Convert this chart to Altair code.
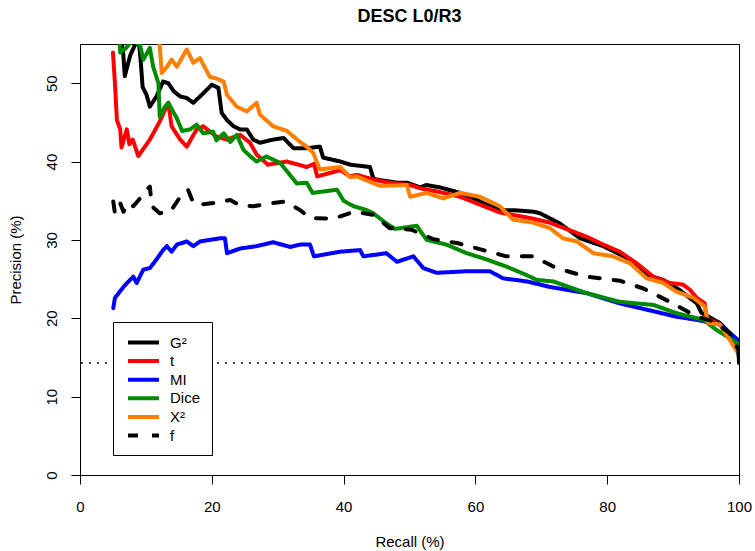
import altair as alt
import pandas as pd

series_names = ["G²", "t", "MI", "Dice", "X²", "f"]
series_colors = ["#000000", "#FF0000", "#0000FF", "#008B00", "#FF7F00", "#000000"]
series_dashes = [[1, 0], [1, 0], [1, 0], [1, 0], [1, 0], [10, 14]]
baseline = [14.3]

g2_x = [5.0, 6.5, 6.8, 7.6, 8.3, 8.9, 9.2, 9.5, 10.1, 10.6, 11.6, 12.6, 13.4, 14.2, 15.2, 16.2,
        17.2, 18.7, 20.0, 21.0, 21.5, 22.3, 23.3, 24.3, 25.3, 26.3, 27.3, 29.3, 30.9, 32.4, 34.4,
        36.4, 36.9, 39.5, 41.0, 44.0, 44.5, 45.0, 48.1, 49.6, 51.6, 52.6, 54.6, 57.7, 59.2, 61.2,
        63.7, 65.7, 68.8, 69.8, 72.8, 75.9, 79.4, 83.5, 86.0, 88.5, 91.0, 93.6, 94.3, 97.1, 98.6,
        99.9, 100.0]
g2_y = [57.0, 54.5, 50.9, 53.5, 54.8, 55.5, 53.0, 49.5, 48.5, 47.0, 48.3, 50.2, 50.0, 49.0, 48.3, 48.1,
        47.5, 48.7, 49.8, 49.4, 46.2, 45.3, 44.5, 44.1, 44.1, 42.8, 42.4, 42.8, 43.0, 41.7, 41.7,
        41.9, 40.5, 40.0, 39.6, 39.3, 37.9, 37.7, 37.3, 37.3, 36.7, 37.0, 36.7, 36.0, 35.5, 34.7,
        33.8, 33.8, 33.6, 33.4, 32.1, 30.2, 29.2, 27.5, 25.5, 24.9, 23.6, 21.9, 20.7, 19.4, 18.1,
        16.8, 14.3]

t_x = [5.0, 5.3, 5.6, 6.1, 6.3, 7.1, 7.5, 8.0, 8.85, 10.6, 12.1, 13.4, 13.9, 15.2, 16.2, 17.7,
       18.7, 20.7, 22.3, 24.3, 25.8, 26.8, 28.5, 31.4, 34.4, 35.5, 36.0, 39.5, 41.0, 42.0, 44.5,
       47.0, 50.1, 51.6, 54.6, 57.7, 60.7, 63.7, 66.3, 68.8, 71.3, 76.9, 79.4, 81.9, 84.5, 87.0,
       89.5, 91.5, 92.6, 93.6, 94.8, 95.1, 97.1, 99.9, 100.0]
t_y = [53.9, 50.0, 45.3, 44.1, 41.8, 44.1, 42.2, 42.8, 40.7, 42.8, 45.1, 47.5, 44.5, 42.8, 41.9, 44.1,
       44.5, 43.2, 42.8, 43.4, 42.4, 40.9, 39.6, 40.0, 39.3, 39.7, 38.1, 38.9, 38.1, 38.3, 37.7,
       37.3, 37.0, 36.6, 36.1, 35.5, 34.5, 33.5, 33.1, 32.7, 32.2, 30.4, 29.4, 28.5, 27.0, 25.3,
       24.5, 24.3, 23.6, 22.6, 21.9, 20.0, 19.2, 16.0, 15.5]

mi_x = [5.05, 5.3, 6.6, 7.6, 8.1, 8.6, 9.6, 10.6, 11.6, 12.6, 13.2, 13.9, 14.7, 16.2, 17.2, 18.2,
        19.7, 21.2, 22.0, 22.3, 24.3, 26.8, 29.3, 31.9, 33.4, 34.9, 35.5, 39.5, 42.5, 43.0, 46.5,
        48.1, 50.6, 52.1, 54.1, 58.7, 62.2, 64.2, 67.8, 71.3, 76.9, 81.9, 87.0, 90.5, 93.6, 97.1,
        99.9, 100.0]
mi_y = [21.3, 22.6, 24.0, 24.9, 25.3, 24.5, 26.2, 26.4, 27.5, 28.7, 29.2, 28.5, 29.4, 29.8, 29.2, 29.8,
        30.0, 30.2, 30.2, 28.3, 28.9, 29.2, 29.7, 29.1, 29.4, 29.4, 27.9, 28.5, 28.7, 27.9, 28.3,
        27.2, 27.9, 26.4, 25.8, 26.0, 26.0, 25.1, 24.7, 24.0, 23.2, 21.9, 20.9, 20.2, 19.8, 19.2,
        17.2, 16.5]

dice_x = [6.0, 6.1, 7.0, 8.0, 9.1, 9.6, 10.6, 11.1, 11.9, 12.1, 12.9, 13.4, 14.7, 15.5, 16.7, 17.7,
          18.7, 20.2, 20.7, 21.8, 22.8, 23.8, 24.8, 25.8, 26.8, 28.3, 30.4, 32.9, 34.4, 35.3, 39.0,
          40.0, 41.5, 43.5, 44.5, 46.5, 47.8, 51.1, 52.6, 55.6, 58.7, 61.7, 64.7, 67.8, 69.3, 71.8,
          76.9, 81.9, 87.0, 90.5, 94.6, 96.6, 99.9, 100.0]
dice_y = [55.5, 53.9, 54.5, 55.5, 54.9, 53.0, 54.5, 52.1, 50.0, 45.7, 47.0, 47.5, 45.5, 43.9, 44.1, 44.7,
          43.6, 43.8, 42.7, 43.6, 42.5, 43.4, 41.5, 40.7, 40.0, 40.65, 39.8, 37.2, 37.3, 36.0, 36.4,
          35.0, 34.3, 33.8, 33.4, 32.1, 31.4, 31.8, 30.0, 29.4, 28.3, 27.5, 26.6, 25.5, 24.9, 24.7,
          23.2, 22.1, 21.7, 20.65, 19.8, 18.5, 16.8, 16.3]

x2_x = [11.9, 12.1, 12.4, 13.2, 13.9, 14.7, 16.2, 17.2, 18.2, 19.7, 20.7, 21.8, 22.3, 23.8, 25.3,
        26.8, 27.3, 29.3, 31.4, 33.4, 34.4, 35.4, 35.9, 36.4, 39.5, 41.0, 42.0, 45.5, 49.6, 50.1,
        52.6, 55.1, 57.7, 60.7, 63.7, 65.7, 68.8, 71.3, 73.3, 75.4, 77.9, 80.9, 83.5, 86.0, 88.5,
        90.5, 93.1, 94.8, 95.3, 97.1, 99.9, 100.0]
x2_y = [56.0, 54.9, 51.3, 52.1, 53.0, 52.1, 54.3, 52.6, 53.2, 50.8, 50.6, 50.2, 48.5, 47.0, 46.4,
        47.5, 46.0, 44.5, 43.9, 42.5, 41.9, 41.1, 40.0, 39.0, 39.3, 38.0, 38.1, 36.9, 37.0, 35.5,
        36.0, 35.3, 36.0, 35.5, 34.3, 32.6, 32.2, 31.5, 30.2, 29.8, 28.3, 27.9, 27.0, 25.1, 24.5,
        23.4, 22.6, 21.5, 19.4, 19.2, 15.5, 15.3]

f_x = [5.05, 5.3, 6.1, 6.6, 7.3, 8.1, 9.1, 10.1, 10.6, 10.9, 12.1, 13.7, 15.2, 16.4, 17.2, 18.2,
       20.2, 22.8, 24.3, 26.3, 29.3, 31.2, 33.4, 34.9, 38.4, 41.6, 44.5, 47.0, 50.3, 53.6, 57.2,
       61.2, 64.7, 68.8, 72.3, 76.9, 81.9, 85.5, 89.5, 93.6, 96.1, 98.6, 99.9, 100.0]
f_y = [34.9, 33.4, 34.7, 33.6, 34.7, 34.3, 35.3, 36.4, 36.8, 34.3, 33.4, 33.6, 35.5, 36.4, 34.7, 34.5,
       34.7, 35.1, 34.4, 34.3, 34.7, 34.9, 33.8, 32.8, 32.7, 33.6, 33.2, 31.5, 31.3, 30.1, 29.6,
       28.7, 27.9, 27.9, 26.4, 25.3, 24.8, 23.8, 22.1, 20.2, 19.6, 18.1, 16.0, 14.3]

all_series = [(series_names[0], g2_x, g2_y), (series_names[1], t_x, t_y), (series_names[2], mi_x, mi_y),
              (series_names[3], dice_x, dice_y), (series_names[4], x2_x, x2_y), (series_names[5], f_x, f_y)]

rows = []
for name, xs, ys in all_series:
    for i, (xv, yv) in enumerate(zip(xs, ys)):
        rows.append({"series": name, "recall": xv, "precision": yv, "i": i})
df = pd.DataFrame(rows)

FONT = "Liberation Sans"

x_scale = alt.Scale(domain=[0, 100], nice=False, zero=False)
y_scale = alt.Scale(domain=[0, 55], nice=False, zero=False)

x_axis = alt.Axis(values=[0, 20, 40, 60, 80, 100], format="d", title="Recall (%)", grid=False,
                  tickSize=9, tickColor="black", domainColor="black", labelColor="black",
                  titleColor="black", labelFont=FONT, titleFont=FONT, labelFontSize=15,
                  titleFontSize=15, titleFontWeight="normal", labelPadding=15, labelFlush=False,
                  titleY=66, titleBaseline="middle")
y_axis = alt.Axis(values=[0, 10, 20, 30, 40, 50], format="d", title="Precision (%)", grid=False,
                  tickSize=9, tickColor="black", domainColor="black", labelColor="black",
                  titleColor="black", labelFont=FONT, titleFont=FONT, labelFontSize=15,
                  titleFontSize=15, titleFontWeight="normal", labelAngle=270, labelAlign="center",
                  labelBaseline="bottom", labelPadding=12, labelFlush=False, titleAngle=270,
                  titleX=-65, titleY=215.5, titleBaseline="middle", titleAlign="center")

# custom path longer than the symbol box so rows stay compact while the line sample stays long
legend = alt.Legend(title=None, orient="none", legendX=33, legendY=278, direction="vertical",
                    symbolType="M-2.07,0L2.07,0", symbolSize=225, symbolStrokeWidth=4,
                    labelFont=FONT, labelFontSize=15, labelColor="black", padding=11,
                    rowPadding=0.6, symbolOffset=10, labelOffset=17,
                    strokeColor="black", fillColor="white", cornerRadius=0)

color_enc = alt.Color("series:N", scale=alt.Scale(domain=series_names, range=series_colors), legend=legend)
dash_enc = alt.StrokeDash("series:N", scale=alt.Scale(domain=series_names, range=series_dashes), legend=legend)

base_line = alt.Chart(pd.DataFrame({"y": baseline})).mark_rule(
    strokeDash=[2, 6], strokeWidth=1.5, color="black"
).encode(y=alt.Y("y:Q", scale=y_scale, axis=y_axis))

layers = [base_line]
for name in series_names:
    layers.append(
        alt.Chart(df).transform_filter(alt.datum.series == name).mark_line(
            strokeWidth=4, clip=True, strokeCap="round", strokeJoin="round"
        ).encode(
            x=alt.X("recall:Q", scale=x_scale, axis=x_axis),
            y=alt.Y("precision:Q", scale=y_scale, axis=y_axis),
            color=color_enc,
            strokeDash=dash_enc,
            order="i:Q",
        )
    )

chart = alt.layer(*layers).properties(
    width=659, height=431,
    title=alt.Title("DESC L0/R3", font=FONT, fontSize=18, fontWeight="bold", color="black",
                    anchor="middle", offset=18),
    autosize=alt.AutoSizeParams(type="none"),
    padding={"left": 80, "top": 44, "right": 16, "bottom": 76},
    background="white",
).configure_view(stroke="black", strokeWidth=1)

chart.save("out.html", embed_options={"renderer": "svg", "actions": False})
